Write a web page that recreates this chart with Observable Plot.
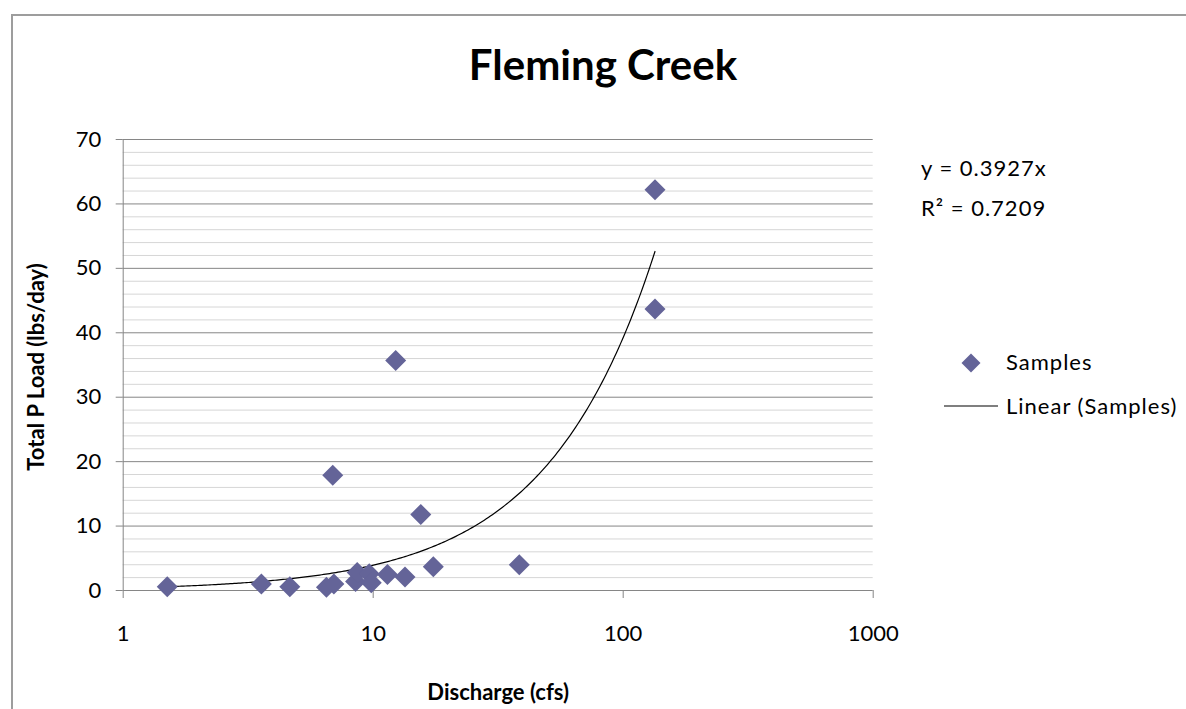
<!DOCTYPE html>
<html>
<head>
<meta charset="utf-8">
<script src="https://cdn.jsdelivr.net/npm/d3@7"></script>
<script src="https://cdn.jsdelivr.net/npm/@observablehq/plot@0.6"></script>
<style>
  html, body { margin: 0; padding: 0; background: #fff; overflow: hidden; }
  #wrap { position: relative; width: 1186px; height: 709px; overflow: hidden; background: #fff; font-family: Lato, "Open Sans", sans-serif; }
  #frame { position: absolute; left: 11px; top: 14px; width: 3000px; height: 3000px; border-left: 2px solid #9d9d9d; border-top: 2px solid #9d9d9d; pointer-events: none; z-index: 5; }
  #title { height: 110px; box-sizing: border-box; padding-top: 43px; width: 1206px; text-align: center; font: bold 42px/42px Lato, sans-serif; color: #000; }
  #chart svg text { fill: #000; }
  .note { position: absolute; font: 22px/22px Lato, sans-serif; letter-spacing: 1px; color: #000; white-space: nowrap; }
  .legsym { position: absolute; }
</style>
</head>
<body>
<div id="wrap">
  <div id="title"></div>
  <div id="chart"></div>
  <div class="note" id="eq1" style="left:921px; top:157px;"></div>
  <div class="note" id="eq2" style="left:921px; top:197px;"></div>
  <svg class="legsym" style="left:958px; top:350px;" width="26" height="26"><path id="legDiamond" d="M13,3.5L22.5,13L13,22.5L3.5,13Z"></path></svg>
  <div class="note" id="leg1" style="left:1006px; top:351px;"></div>
  <svg class="legsym" style="left:940px; top:400px;" width="62" height="12"><line id="legLine" x1="4" x2="58" y1="6" y2="6" stroke="#000" stroke-width="1.2"></line></svg>
  <div class="note" id="leg2" style="left:1006px; top:395px;"></div>
  <div id="frame"></div>
</div>
<script>
// ---- data ----
const chartTitle = "Fleming Creek";
const xLabel = "Discharge (cfs)";
const yLabel = "Total P Load (lbs/day)";
const seriesName = "Samples";
const trendName = "Linear (Samples)";

const discharge = [1.50, 3.57, 4.64, 6.50, 6.96, 6.89, 8.50, 8.63, 9.64, 9.82, 11.4, 13.4, 15.5, 17.4, 38.4, 134, 134, 12.3];
const load      = [0.6,  1.0,  0.6,  0.5,  1.0,  17.9, 1.4,  2.8,  2.6,  1.2,  2.5,  2.1,  11.8, 3.7,  4.0,  43.7, 62.2, 35.7];

const trendSlope = 0.3927;
const rSquared = 0.7209;

const xTicks = [1, 10, 100, 1000];
const yMajor = [0, 10, 20, 30, 40, 50, 60, 70];
const yMinor = [2, 4, 6, 8, 12, 14, 16, 18, 22, 24, 26, 28, 32, 34, 36, 38, 42, 44, 46, 48, 52, 54, 56, 58, 62, 64, 66, 68];

const markerColor = "#646498";

// ---- build ----
const samples = discharge.map((x, i) => ({x, y: load[i]}));
const lo = d3.min(discharge), hi = d3.max(discharge);
const trend = d3.range(0, 241).map(i => {
  const x = lo * Math.pow(hi / lo, i / 240);
  return {x, y: trendSlope * x};
});

const diamond = {
  draw(ctx, size) {
    const h = Math.sqrt(size / Math.PI);
    ctx.moveTo(0, -h); ctx.lineTo(h, 0); ctx.lineTo(0, h); ctx.lineTo(-h, 0); ctx.closePath();
  }
};

document.getElementById("title").textContent = chartTitle;
document.getElementById("eq1").textContent = `y = ${trendSlope}x`;
document.getElementById("eq2").textContent = `R² = ${rSquared}`;
document.getElementById("leg1").textContent = seriesName;
document.getElementById("leg2").textContent = trendName;
document.getElementById("legDiamond").setAttribute("fill", markerColor);

const chart = Plot.plot({
  width: 1186,
  height: 599,
  marginLeft: 122.7,
  marginRight: 313.3,
  marginTop: 29,
  marginBottom: 119,
  x: {type: "log", domain: [1, 1000], ticks: xTicks, tickFormat: d => String(d), tickSize: 8, tickPadding: 27, label: null},
  y: {domain: [0, 70], ticks: yMajor, tickSize: 7, tickPadding: 15, label: null},
  style: {fontFamily: "Lato, sans-serif", fontSize: "22px", color: "#868686", background: "transparent", overflow: "visible"},
  marks: [
    Plot.ruleY(yMinor, {stroke: "#d6d6d6", strokeWidth: 1}),
    Plot.ruleY(yMajor, {stroke: "#868686", strokeWidth: 1}),
    Plot.ruleX([xTicks[0]], {stroke: "#868686", strokeWidth: 1}),
    Plot.line(trend, {x: "x", y: "y", stroke: "#000", strokeWidth: 1.2}),
    Plot.dot(samples, {x: "x", y: "y", symbol: diamond, r: 10.5, fill: markerColor, stroke: "none"}),
    Plot.text([yLabel], {frameAnchor: "left", textAnchor: "middle", dx: -86.7, dy: 2, rotate: -90, fontWeight: "bold", fontSize: 22, fill: "#000"}),
    Plot.text([xLabel], {frameAnchor: "bottom", textAnchor: "middle", dy: 109.5, fontWeight: "bold", fontSize: 22, fill: "#000"})
  ]
});
document.getElementById("chart").appendChild(chart);
</script>
</body>
</html>
